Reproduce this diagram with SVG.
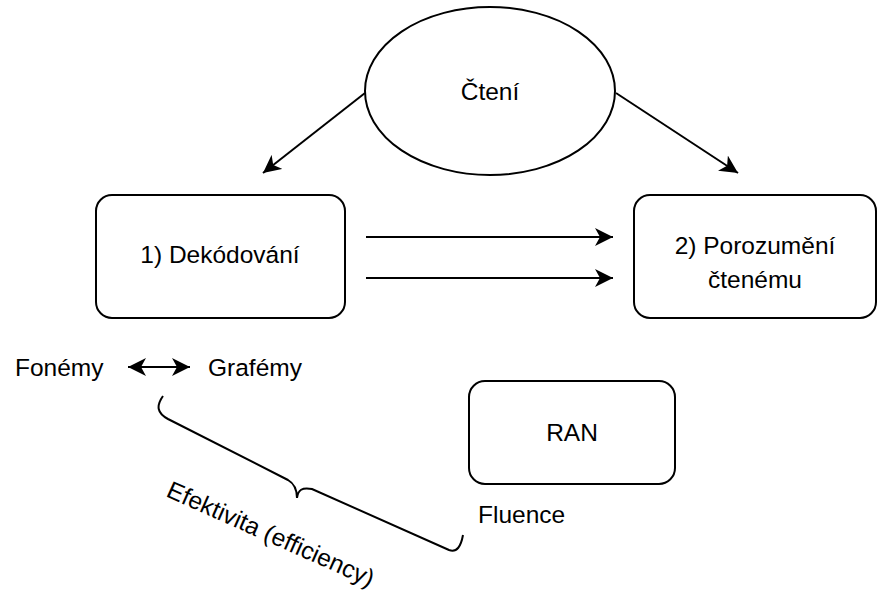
<svg xmlns="http://www.w3.org/2000/svg" width="878" height="596" viewBox="0 0 878 596">
<style>
.shape{fill:#fff;stroke:#000;stroke-width:2}
.t{font-family:"Liberation Sans",Arial,Helvetica,sans-serif;font-size:24.5px;fill:#000}
.c{text-anchor:middle}
.conn{stroke:#000;stroke-width:2;fill:none}
</style>
<defs>
<marker id="ah" viewBox="0 0 18 18" refX="18" refY="9" markerWidth="18" markerHeight="18" orient="auto-start-reverse" markerUnits="userSpaceOnUse"><path d="M0,0 L18,9 L0,18 L5,9 Z" fill="#000"/></marker>
</defs>
<rect width="878" height="596" fill="#fff"/>
<g id="connectors">
<line class="conn" x1="365" y1="93" x2="263" y2="173" marker-end="url(#ah)"/>
<line class="conn" x1="616" y1="93" x2="738" y2="173" marker-end="url(#ah)"/>
<line class="conn" x1="366" y1="237" x2="613" y2="237" marker-end="url(#ah)"/>
<line class="conn" x1="366" y1="278" x2="613" y2="278" marker-end="url(#ah)"/>
<line class="conn" x1="128" y1="367" x2="190" y2="367" marker-start="url(#ah)" marker-end="url(#ah)"/>
</g>
<g id="cteni">
<ellipse class="shape" cx="490" cy="91" rx="125" ry="84"/>
<text class="t c" x="490" y="100">Čtení</text>
</g>
<g id="dekodovani">
<rect class="shape" x="96" y="195" width="249" height="123" rx="16"/>
<text class="t c" x="220" y="263">1) Dekódování</text>
</g>
<g id="porozumeni">
<rect class="shape" x="634" y="195" width="242" height="123" rx="16"/>
<text class="t c" x="755" y="254">2) Porozumění</text>
<text class="t c" x="755" y="288">čtenému</text>
</g>
<g id="ran">
<rect class="shape" x="469" y="381" width="206" height="103" rx="16"/>
<text class="t c" x="572" y="441">RAN</text>
</g>
<g id="fonemy"><text class="t" x="15" y="376">Fonémy</text></g>
<g id="grafemy"><text class="t" x="208" y="376">Grafémy</text></g>
<g id="fluence"><text class="t" x="478" y="523">Fluence</text></g>
<g id="brace">
<path class="conn" d="M163,396 C156,406 157,413 168,419 L288,480 C295,484 297,490 297,498 C298,490 302,487 312,489 L449,550 C457,553 461,546 463,535"/>
<text class="t" transform="translate(165,496) rotate(24)" x="0" y="0">Efektivita (efficiency)</text>
</g>
</svg>
